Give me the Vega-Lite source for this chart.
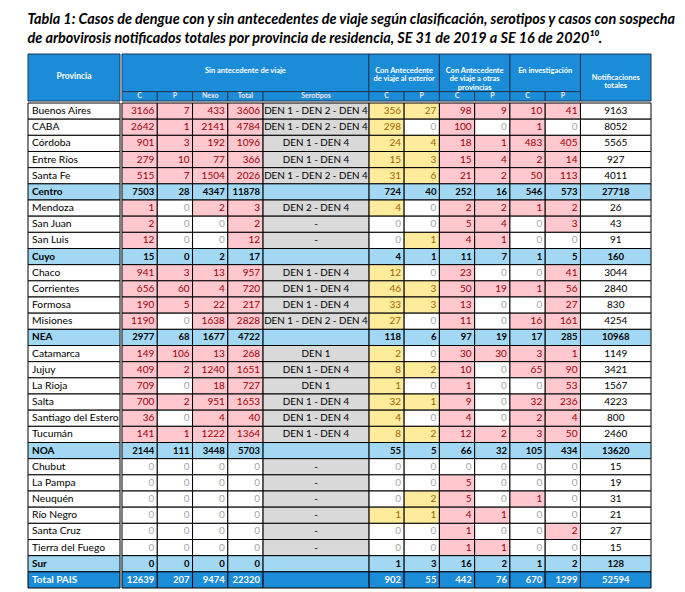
{
  "$schema": "https://vega.github.io/schema/vega-lite/v6.json",
  "padding": {"left": 27, "top": 12, "right": 37, "bottom": 3},
  "background": "white",
  "spacing": 0,
  "config": {"view": {"stroke": null}, "font": "Lato"},
  "title": {
    "text": ["Tabla 1: Casos de dengue con y sin antecedentes de viaje según clasificación, serotipos y casos con sospecha", "de arbovirosis notificados totales por provincia de residencia, SE 31 de 2019 a SE 16 de 2020¹⁰."],
    "anchor": "start", "font": "Lato", "fontStyle": "italic", "fontWeight": "bold", "fontSize": 14.4, "lineHeight": 19, "color": "black", "offset": 7
  },
  "datasets": {
    "rows": [
      {"p": "Buenos Aires", "t": "prov", "sC": 3166, "sP": 7, "sN": 433, "sT": 3606, "sero": "DEN 1 - DEN 2 - DEN 4", "eC": 356, "eP": 27, "oC": 98, "oP": 9, "iC": 10, "iP": 41, "n": 9163},
      {"p": "CABA", "t": "prov", "sC": 2642, "sP": 1, "sN": 2141, "sT": 4784, "sero": "DEN 1 - DEN 2 - DEN 4", "eC": 298, "eP": 0, "oC": 100, "oP": 0, "iC": 1, "iP": 0, "n": 8052},
      {"p": "Córdoba", "t": "prov", "sC": 901, "sP": 3, "sN": 192, "sT": 1096, "sero": "DEN 1 - DEN 4", "eC": 24, "eP": 4, "oC": 18, "oP": 1, "iC": 483, "iP": 405, "n": 5565},
      {"p": "Entre Ríos", "t": "prov", "sC": 279, "sP": 10, "sN": 77, "sT": 366, "sero": "DEN 1 - DEN 4", "eC": 15, "eP": 3, "oC": 15, "oP": 4, "iC": 2, "iP": 14, "n": 927},
      {"p": "Santa Fe", "t": "prov", "sC": 515, "sP": 7, "sN": 1504, "sT": 2026, "sero": "DEN 1 - DEN 2 - DEN 4", "eC": 31, "eP": 6, "oC": 21, "oP": 2, "iC": 50, "iP": 113, "n": 4011},
      {"p": "Centro", "t": "region", "sC": 7503, "sP": 28, "sN": 4347, "sT": 11878, "sero": "", "eC": 724, "eP": 40, "oC": 252, "oP": 16, "iC": 546, "iP": 573, "n": 27718},
      {"p": "Mendoza", "t": "prov", "sC": 1, "sP": 0, "sN": 2, "sT": 3, "sero": "DEN 2 - DEN 4", "eC": 4, "eP": 0, "oC": 2, "oP": 2, "iC": 1, "iP": 2, "n": 26},
      {"p": "San Juan", "t": "prov", "sC": 2, "sP": 0, "sN": 0, "sT": 2, "sero": "-", "eC": 0, "eP": 0, "oC": 5, "oP": 4, "iC": 0, "iP": 3, "n": 43},
      {"p": "San Luis", "t": "prov", "sC": 12, "sP": 0, "sN": 0, "sT": 12, "sero": "-", "eC": 0, "eP": 1, "oC": 4, "oP": 1, "iC": 0, "iP": 0, "n": 91},
      {"p": "Cuyo", "t": "region", "sC": 15, "sP": 0, "sN": 2, "sT": 17, "sero": "", "eC": 4, "eP": 1, "oC": 11, "oP": 7, "iC": 1, "iP": 5, "n": 160},
      {"p": "Chaco", "t": "prov", "sC": 941, "sP": 3, "sN": 13, "sT": 957, "sero": "DEN 1 - DEN 4", "eC": 12, "eP": 0, "oC": 23, "oP": 0, "iC": 0, "iP": 41, "n": 3044},
      {"p": "Corrientes", "t": "prov", "sC": 656, "sP": 60, "sN": 4, "sT": 720, "sero": "DEN 1 - DEN 4", "eC": 46, "eP": 3, "oC": 50, "oP": 19, "iC": 1, "iP": 56, "n": 2840},
      {"p": "Formosa", "t": "prov", "sC": 190, "sP": 5, "sN": 22, "sT": 217, "sero": "DEN 1 - DEN 4", "eC": 33, "eP": 3, "oC": 13, "oP": 0, "iC": 0, "iP": 27, "n": 830},
      {"p": "Misiones", "t": "prov", "sC": 1190, "sP": 0, "sN": 1638, "sT": 2828, "sero": "DEN 1 - DEN 2 - DEN 4", "eC": 27, "eP": 0, "oC": 11, "oP": 0, "iC": 16, "iP": 161, "n": 4254},
      {"p": "NEA", "t": "region", "sC": 2977, "sP": 68, "sN": 1677, "sT": 4722, "sero": "", "eC": 118, "eP": 6, "oC": 97, "oP": 19, "iC": 17, "iP": 285, "n": 10968},
      {"p": "Catamarca", "t": "prov", "sC": 149, "sP": 106, "sN": 13, "sT": 268, "sero": "DEN 1", "eC": 2, "eP": 0, "oC": 30, "oP": 30, "iC": 3, "iP": 1, "n": 1149},
      {"p": "Jujuy", "t": "prov", "sC": 409, "sP": 2, "sN": 1240, "sT": 1651, "sero": "DEN 1 - DEN 4", "eC": 8, "eP": 2, "oC": 10, "oP": 0, "iC": 65, "iP": 90, "n": 3421},
      {"p": "La Rioja", "t": "prov", "sC": 709, "sP": 0, "sN": 18, "sT": 727, "sero": "DEN 1", "eC": 1, "eP": 0, "oC": 1, "oP": 0, "iC": 0, "iP": 53, "n": 1567},
      {"p": "Salta", "t": "prov", "sC": 700, "sP": 2, "sN": 951, "sT": 1653, "sero": "DEN 1 - DEN 4", "eC": 32, "eP": 1, "oC": 9, "oP": 0, "iC": 32, "iP": 236, "n": 4223},
      {"p": "Santiago del Estero", "t": "prov", "sC": 36, "sP": 0, "sN": 4, "sT": 40, "sero": "DEN 1 - DEN 4", "eC": 4, "eP": 0, "oC": 4, "oP": 0, "iC": 2, "iP": 4, "n": 800},
      {"p": "Tucumán", "t": "prov", "sC": 141, "sP": 1, "sN": 1222, "sT": 1364, "sero": "DEN 1 - DEN 4", "eC": 8, "eP": 2, "oC": 12, "oP": 2, "iC": 3, "iP": 50, "n": 2460},
      {"p": "NOA", "t": "region", "sC": 2144, "sP": 111, "sN": 3448, "sT": 5703, "sero": "", "eC": 55, "eP": 5, "oC": 66, "oP": 32, "iC": 105, "iP": 434, "n": 13620},
      {"p": "Chubut", "t": "prov", "sC": 0, "sP": 0, "sN": 0, "sT": 0, "sero": "-", "eC": 0, "eP": 0, "oC": 0, "oP": 0, "iC": 0, "iP": 0, "n": 15},
      {"p": "La Pampa", "t": "prov", "sC": 0, "sP": 0, "sN": 0, "sT": 0, "sero": "-", "eC": 0, "eP": 0, "oC": 5, "oP": 0, "iC": 0, "iP": 0, "n": 19},
      {"p": "Neuquén", "t": "prov", "sC": 0, "sP": 0, "sN": 0, "sT": 0, "sero": "-", "eC": 0, "eP": 2, "oC": 5, "oP": 0, "iC": 1, "iP": 0, "n": 31},
      {"p": "Río Negro", "t": "prov", "sC": 0, "sP": 0, "sN": 0, "sT": 0, "sero": "-", "eC": 1, "eP": 1, "oC": 4, "oP": 1, "iC": 0, "iP": 0, "n": 21},
      {"p": "Santa Cruz", "t": "prov", "sC": 0, "sP": 0, "sN": 0, "sT": 0, "sero": "-", "eC": 0, "eP": 0, "oC": 1, "oP": 0, "iC": 0, "iP": 2, "n": 27},
      {"p": "Tierra del Fuego", "t": "prov", "sC": 0, "sP": 0, "sN": 0, "sT": 0, "sero": "-", "eC": 0, "eP": 0, "oC": 1, "oP": 1, "iC": 0, "iP": 0, "n": 15},
      {"p": "Sur", "t": "region", "sC": 0, "sP": 0, "sN": 0, "sT": 0, "sero": "", "eC": 1, "eP": 3, "oC": 16, "oP": 2, "iC": 1, "iP": 2, "n": 128},
      {"p": "Total PAIS", "t": "total", "sC": 12639, "sP": 207, "sN": 9474, "sT": 22320, "sero": "", "eC": 902, "eP": 55, "oC": 442, "oP": 76, "iC": 670, "iP": 1299, "n": 52594}
    ],
    "cols": [
      {"key": "sC", "k2": "sC_"}, {"key": "sP", "k2": "sP_"}, {"key": "sN", "k2": "sN_"}, {"key": "sT", "k2": "sT_"},
      {"key": "eC", "k2": "eC_"}, {"key": "eP", "k2": "eP_"}, {"key": "oC", "k2": "oC_"}, {"key": "oP", "k2": "oP_"},
      {"key": "iC", "k2": "iC_"}, {"key": "iP", "k2": "iP_"}
    ],
    "hdr": [
      {"label": "Sin antecedente de viaje", "lvl": "group", "xs": "sC", "xe": "z6", "xm": "sT_", "ys": "H1", "ye": "H4"},
      {"label": "Con Antecedente\nde viaje al exterior", "lvl": "group", "xs": "eC", "xe": "eP_", "xm": "eP", "ys": "H1", "ye": "H4"},
      {"label": "Con Antecedente\nde viaje a otras\nprovincias", "lvl": "group", "xs": "oC", "xe": "oP_", "xm": "oP", "ys": "H1", "ye": "H4"},
      {"label": "En investigación", "lvl": "group", "xs": "iC", "xe": "iP_", "xm": "iP", "ys": "H1", "ye": "H4"},
      {"label": "Notificaciones\ntotales", "lvl": "full", "xs": "n1", "xe": "n4", "xm": "n3", "ys": "H1", "ye": "S"},
      {"label": "C", "lvl": "sub", "xs": "sC", "xe": "sC_", "xm": "sC_", "ys": "S", "ye": "S"},
      {"label": "P", "lvl": "sub", "xs": "sP", "xe": "sP_", "xm": "sP_", "ys": "S", "ye": "S"},
      {"label": "Nexo", "lvl": "sub", "xs": "sN", "xe": "sN_", "xm": "sN_", "ys": "S", "ye": "S"},
      {"label": "Total", "lvl": "sub", "xs": "sT", "xe": "sT_", "xm": "sT_", "ys": "S", "ye": "S"},
      {"label": "Serotipos", "lvl": "sub", "xs": "z1", "xe": "z6", "xm": "z4", "ys": "S", "ye": "S"},
      {"label": "C", "lvl": "sub", "xs": "eC", "xe": "eC_", "xm": "eC_", "ys": "S", "ye": "S"},
      {"label": "P", "lvl": "sub", "xs": "eP", "xe": "eP_", "xm": "eP_", "ys": "S", "ye": "S"},
      {"label": "C", "lvl": "sub", "xs": "oC", "xe": "oC_", "xm": "oC_", "ys": "S", "ye": "S"},
      {"label": "P", "lvl": "sub", "xs": "oP", "xe": "oP_", "xm": "oP_", "ys": "S", "ye": "S"},
      {"label": "C", "lvl": "sub", "xs": "iC", "xe": "iC_", "xm": "iC_", "ys": "S", "ye": "S"},
      {"label": "P", "lvl": "sub", "xs": "iP", "xe": "iP_", "xm": "iP_", "ys": "S", "ye": "S"}
    ]
  },
  "vconcat": [
    {
      "spacing": 0,
      "hconcat": [
        {
          "width": 92,
          "height": 47,
          "data": {"values": [{"label": "Provincia"}]},
          "layer": [
            {
              "mark": {"type": "rect", "fill": "#1a8cd8", "stroke": "#1f3552", "strokeWidth": 1},
              "encoding": {
                "x": {"datum": "Provincia", "type": "nominal", "scale": {"domain": ["Provincia"], "paddingInner": 0, "paddingOuter": 0}, "axis": null},
                "y": {"datum": "H1", "type": "nominal", "bandPosition": 0, "scale": {"domain": ["H1","H2","H3","H4","S"], "paddingInner": 0, "paddingOuter": 0}, "axis": null},
                "y2": {"datum": "S", "bandPosition": 1}
              }
            },
            {
              "mark": {"type": "text", "align": "center", "baseline": "middle", "dy": -2, "fontSize": 8.5, "fontWeight": "bold", "color": "white"},
              "encoding": {
                "x": {"datum": "Provincia", "type": "nominal", "bandPosition": 0.5},
                "y": {"datum": "H3", "type": "nominal", "bandPosition": 0.5},
                "text": {"field": "label"}
              }
            }
          ]
        },
        {
          "width": 529,
          "height": 47,
          "data": {"name": "hdr"},
          "layer": [
            {
              "mark": {"type": "rect", "fill": "#1a8cd8", "stroke": "#1f3552", "strokeWidth": 1},
              "encoding": {
                "x": {"field": "xs", "type": "nominal", "bandPosition": 0, "scale": {"domain": ["sC","sC_","sP","sP_","sN","sN_","sT","sT_","z1","z2","z3","z4","z5","z6","eC","eC_","eP","eP_","oC","oC_","oP","oP_","iC","iC_","iP","iP_","n1","n2","n3","n4"], "paddingInner": 0, "paddingOuter": 0}, "axis": null},
                "x2": {"field": "xe", "bandPosition": 1},
                "y": {"field": "ys", "type": "nominal", "bandPosition": 0, "scale": {"domain": ["H1","H2","H3","H4","S"], "paddingInner": 0, "paddingOuter": 0}, "axis": null},
                "y2": {"field": "ye", "bandPosition": 1}
              }
            },
            {
              "transform": [{"filter": "datum.lvl == 'group'"}],
              "mark": {"type": "text", "align": "center", "baseline": "middle", "dy": -2, "fontSize": 7.5, "fontWeight": "bold", "color": "white", "lineBreak": "\n", "lineHeight": 8.5},
              "encoding": {
                "x": {"field": "xm", "type": "nominal", "bandPosition": 0},
                "y": {"datum": "H3", "type": "nominal", "bandPosition": 0},
                "text": {"field": "label"}
              }
            },
            {
              "transform": [{"filter": "datum.lvl == 'full'"}],
              "mark": {"type": "text", "align": "center", "baseline": "middle", "fontSize": 7.5, "fontWeight": "bold", "color": "white", "lineBreak": "\n", "lineHeight": 8.5},
              "encoding": {
                "x": {"field": "xm", "type": "nominal", "bandPosition": 0},
                "y": {"datum": "H3", "type": "nominal", "bandPosition": 0.5},
                "text": {"field": "label"}
              }
            },
            {
              "transform": [{"filter": "datum.lvl == 'sub'"}],
              "mark": {"type": "text", "align": "center", "baseline": "middle", "fontSize": 7, "fontWeight": "bold", "color": "#fbe3ea"},
              "encoding": {
                "x": {"field": "xm", "type": "nominal", "bandPosition": 0},
                "y": {"datum": "S", "type": "nominal", "bandPosition": 0.5},
                "text": {"field": "label"}
              }
            }
          ]
        }
      ]
    },
    {
      "spacing": 0,
      "hconcat": [
        {
          "width": 92,
          "height": 485,
          "data": {"name": "rows"},
          "layer": [
            {
              "mark": {"type": "rect", "stroke": "black", "strokeWidth": 1},
              "encoding": {
                "x": {"datum": "Provincia", "type": "nominal", "scale": {"domain": ["Provincia"], "paddingInner": 0, "paddingOuter": 0}, "axis": null},
                "y": {"field": "p", "type": "nominal", "sort": null, "scale": {"paddingInner": 0, "paddingOuter": 0}, "axis": null},
                "fill": {"condition": [{"test": "datum.t == 'total'", "value": "#1a8cd8"}, {"test": "datum.t == 'region'", "value": "#a3d8f4"}], "value": "white"}
              }
            },
            {
              "transform": [{"filter": "datum.t == 'prov'"}],
              "mark": {"type": "text", "align": "left", "baseline": "middle", "dx": 4, "fontSize": 10.3, "color": "black"},
              "encoding": {
                "x": {"datum": "Provincia", "type": "nominal", "bandPosition": 0},
                "y": {"field": "p", "type": "nominal", "sort": null, "bandPosition": 0.5},
                "text": {"field": "p"}
              }
            },
            {
              "transform": [{"filter": "datum.t != 'prov'"}],
              "mark": {"type": "text", "align": "left", "baseline": "middle", "dx": 4, "fontSize": 10, "fontWeight": "bold"},
              "encoding": {
                "x": {"datum": "Provincia", "type": "nominal", "bandPosition": 0},
                "y": {"field": "p", "type": "nominal", "sort": null, "bandPosition": 0.5},
                "text": {"field": "p"},
                "color": {"condition": {"test": "datum.t == 'total'", "value": "white"}, "value": "black"}
              }
            }
          ]
        },
        {
          "width": 529,
          "height": 485,
          "data": {"name": "rows"},
          "layer": [
            {
              "transform": [
                {"fold": ["sC","sP","sN","sT","eC","eP","oC","oP","iC","iP"], "as": ["key","v"]},
                {"lookup": "key", "from": {"data": {"name": "cols"}, "key": "key", "fields": ["k2"]}}
              ],
              "mark": {"type": "rect", "stroke": "black", "strokeWidth": 1},
              "encoding": {
                "x": {"field": "key", "type": "nominal", "bandPosition": 0, "scale": {"domain": ["sC","sC_","sP","sP_","sN","sN_","sT","sT_","z1","z2","z3","z4","z5","z6","eC","eC_","eP","eP_","oC","oC_","oP","oP_","iC","iC_","iP","iP_","n1","n2","n3","n4"], "paddingInner": 0, "paddingOuter": 0}, "axis": null},
                "x2": {"field": "k2", "bandPosition": 1},
                "y": {"field": "p", "type": "nominal", "sort": null, "scale": {"paddingInner": 0, "paddingOuter": 0}, "axis": null},
                "fill": {"condition": [
                  {"test": "datum.t == 'total'", "value": "#1a8cd8"},
                  {"test": "datum.t == 'region'", "value": "#a3d8f4"},
                  {"test": "datum.v == 0", "value": "white"},
                  {"test": "datum.key == 'eC' || datum.key == 'eP'", "value": "#ffeb9c"}
                ], "value": "#ffc7ce"}
              }
            },
            {
              "transform": [
                {"filter": "datum.t == 'prov'"},
                {"fold": ["sC","sP","sN","sT","eC","eP","oC","oP","iC","iP"], "as": ["key","v"]},
                {"lookup": "key", "from": {"data": {"name": "cols"}, "key": "key", "fields": ["k2"]}}
              ],
              "mark": {"type": "text", "align": "right", "baseline": "middle", "dx": -3, "fontSize": 10},
              "encoding": {
                "x": {"field": "k2", "type": "nominal", "bandPosition": 1},
                "y": {"field": "p", "type": "nominal", "sort": null, "bandPosition": 0.5},
                "text": {"field": "v", "type": "quantitative", "format": "d"},
                "color": {"condition": [
                  {"test": "datum.v == 0", "value": "#a6a6a6"},
                  {"test": "datum.key == 'eC' || datum.key == 'eP'", "value": "#9c6500"}
                ], "value": "#9c0006"}
              }
            },
            {
              "transform": [
                {"filter": "datum.t != 'prov'"},
                {"fold": ["sC","sP","sN","sT","eC","eP","oC","oP","iC","iP"], "as": ["key","v"]},
                {"lookup": "key", "from": {"data": {"name": "cols"}, "key": "key", "fields": ["k2"]}}
              ],
              "mark": {"type": "text", "align": "right", "baseline": "middle", "dx": -3, "fontSize": 9.5, "fontWeight": "bold"},
              "encoding": {
                "x": {"field": "k2", "type": "nominal", "bandPosition": 1},
                "y": {"field": "p", "type": "nominal", "sort": null, "bandPosition": 0.5},
                "text": {"field": "v", "type": "quantitative", "format": "d"},
                "color": {"condition": {"test": "datum.t == 'total'", "value": "white"}, "value": "black"}
              }
            },
            {
              "mark": {"type": "rect", "stroke": "black", "strokeWidth": 1},
              "encoding": {
                "x": {"datum": "z1", "type": "nominal", "bandPosition": 0},
                "x2": {"datum": "z6", "bandPosition": 1},
                "y": {"field": "p", "type": "nominal", "sort": null},
                "fill": {"condition": [{"test": "datum.t == 'total'", "value": "#1a8cd8"}, {"test": "datum.t == 'region'", "value": "#a3d8f4"}], "value": "#d9d9d9"}
              }
            },
            {
              "transform": [{"filter": "datum.t == 'prov'"}],
              "mark": {"type": "text", "align": "center", "baseline": "middle", "fontSize": 9.8, "color": "black"},
              "encoding": {
                "x": {"datum": "z4", "type": "nominal", "bandPosition": 0},
                "y": {"field": "p", "type": "nominal", "sort": null, "bandPosition": 0.5},
                "text": {"field": "sero"}
              }
            },
            {
              "mark": {"type": "rect", "stroke": "black", "strokeWidth": 1},
              "encoding": {
                "x": {"datum": "n1", "type": "nominal", "bandPosition": 0},
                "x2": {"datum": "n4", "bandPosition": 1},
                "y": {"field": "p", "type": "nominal", "sort": null},
                "fill": {"condition": [{"test": "datum.t == 'total'", "value": "#1a8cd8"}, {"test": "datum.t == 'region'", "value": "#a3d8f4"}], "value": "white"}
              }
            },
            {
              "transform": [{"filter": "datum.t == 'prov'"}],
              "mark": {"type": "text", "align": "center", "baseline": "middle", "fontSize": 10, "color": "black"},
              "encoding": {
                "x": {"datum": "n3", "type": "nominal", "bandPosition": 0},
                "y": {"field": "p", "type": "nominal", "sort": null, "bandPosition": 0.5},
                "text": {"field": "n", "type": "quantitative", "format": "d"}
              }
            },
            {
              "transform": [{"filter": "datum.t != 'prov'"}],
              "mark": {"type": "text", "align": "center", "baseline": "middle", "fontSize": 9.5, "fontWeight": "bold"},
              "encoding": {
                "x": {"datum": "n3", "type": "nominal", "bandPosition": 0},
                "y": {"field": "p", "type": "nominal", "sort": null, "bandPosition": 0.5},
                "text": {"field": "n", "type": "quantitative", "format": "d"},
                "color": {"condition": {"test": "datum.t == 'total'", "value": "white"}, "value": "black"}
              }
            }
          ]
        }
      ]
    }
  ]
}
